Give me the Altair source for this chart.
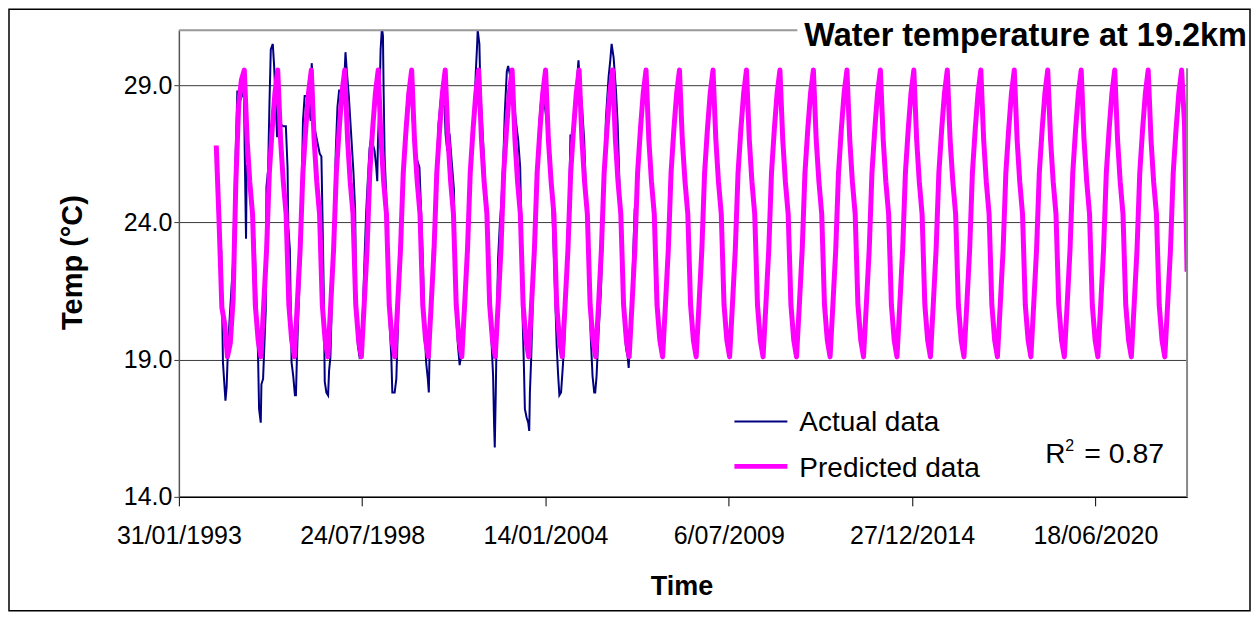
import altair as alt
import pandas as pd
from datetime import datetime, timedelta

# ---------------- data ----------------
# Actual data: time as decimal year, temperature in deg C
ACTUAL_YEAR = [
    1994.35, 1994.40, 1994.475, 1994.51, 1994.55, 1994.60, 1994.70, 1994.77, 1994.83, 1994.90,
    1995.00, 1995.03, 1995.05, 1995.09, 1995.11, 1995.18, 1995.25, 1995.35, 1995.40, 1995.45,
    1995.48, 1995.53, 1995.55, 1995.60, 1995.65, 1995.68, 1995.70, 1995.75, 1995.79, 1995.83,
    1995.89, 1995.93, 1995.98, 1996.02, 1996.04, 1996.10, 1996.20, 1996.28, 1996.33, 1996.35,
    1996.40, 1996.45, 1996.50, 1996.55, 1996.58, 1996.61, 1996.64, 1996.71, 1996.79, 1996.84,
    1996.94, 1997.02, 1997.05, 1997.09, 1997.11, 1997.19, 1997.29, 1997.34, 1997.37, 1997.41,
    1997.44, 1997.49, 1997.54, 1997.57, 1997.61, 1997.64, 1997.69, 1997.77, 1997.82, 1997.87,
    1997.94, 1998.00, 1998.06, 1998.10, 1998.16, 1998.23, 1998.30, 1998.35, 1998.38, 1998.43,
    1998.48, 1998.53, 1998.58, 1998.63, 1998.68, 1998.73, 1998.78, 1998.83, 1998.93, 1998.98,
    1999.01, 1999.03, 1999.08, 1999.11, 1999.15, 1999.18, 1999.20, 1999.23, 1999.30, 1999.35,
    1999.38, 1999.43, 1999.46, 1999.53, 1999.58, 1999.63, 1999.68, 1999.73, 1999.80, 1999.86,
    1999.93, 2000.02, 2000.07, 2000.12, 2000.14, 2000.17, 2000.27, 2000.32, 2000.37, 2000.42,
    2000.47, 2000.52, 2000.55, 2000.57, 2000.62, 2000.67, 2000.74, 2000.79, 2000.84, 2000.90,
    2000.97, 2001.02, 2001.05, 2001.10, 2001.12, 2001.17, 2001.24, 2001.30, 2001.32, 2001.37,
    2001.42, 2001.47, 2001.52, 2001.57, 2001.62, 2001.67, 2001.74, 2001.82, 2001.90, 2001.95,
    2001.99, 2002.01, 2002.06, 2002.09, 2002.16, 2002.21, 2002.27, 2002.32, 2002.37, 2002.42,
    2002.47, 2002.50, 2002.52, 2002.55, 2002.58, 2002.62, 2002.67, 2002.72, 2002.77, 2002.82,
    2002.88, 2002.92, 2002.97, 2003.02, 2003.08, 2003.15, 2003.22, 2003.28, 2003.31, 2003.35,
    2003.39, 2003.42, 2003.47, 2003.52, 2003.55, 2003.57, 2003.61, 2003.65, 2003.70, 2003.75,
    2003.80, 2003.85, 2003.90, 2003.97, 2004.02, 2004.07, 2004.15, 2004.22, 2004.27, 2004.32,
    2004.37, 2004.41, 2004.45, 2004.50, 2004.55, 2004.60, 2004.65, 2004.70, 2004.75, 2004.78,
    2004.80, 2004.81, 2004.86, 2004.95, 2005.02, 2005.06, 2005.12, 2005.19, 2005.24, 2005.29,
    2005.34, 2005.39, 2005.44, 2005.49, 2005.52, 2005.56, 2005.62, 2005.69, 2005.74, 2005.79,
    2005.84, 2005.92, 2005.97, 2006.01, 2006.07, 2006.14, 2006.19, 2006.24, 2006.29, 2006.34,
    2006.39, 2006.44, 2006.49, 2006.52, 2006.57, 2006.62, 2006.70,
]
ACTUAL_TEMP = [
    23.0, 18.9, 17.5, 18.0, 19.4, 20.5, 22.5, 26.0, 28.8, 28.4,
    28.7, 28.6, 26.7, 23.4, 26.1, 25.9, 24.4, 23.2, 21.2, 19.1,
    17.2, 16.7, 18.1, 18.3, 19.9, 20.8, 25.3, 25.9, 28.3, 30.3,
    30.5, 29.7, 28.2, 27.1, 28.4, 27.6, 27.5, 27.5, 26.0, 23.9,
    23.0, 18.9, 18.4, 17.7, 17.7, 19.1, 20.3, 22.5, 27.7, 28.6,
    28.6, 27.7, 29.8, 29.1, 27.6, 27.1, 26.5, 26.4, 24.4, 21.5,
    18.2, 17.8, 17.7, 18.6, 19.1, 20.5, 22.7, 26.6, 28.2, 28.8,
    28.8, 28.5, 30.2, 29.5, 28.6, 27.2, 25.8, 24.4, 20.9, 19.5,
    19.1, 19.2, 20.8, 22.7, 24.4, 25.6, 26.7, 27.1, 26.6, 26.0,
    25.5, 26.9, 28.6, 30.3, 31.1, 30.8, 28.8, 26.4, 24.4, 22.0,
    20.3, 19.1, 17.8, 17.8, 18.3, 20.3, 22.7, 23.9, 25.2, 27.6,
    28.8, 28.7, 27.7, 27.3, 26.0, 26.4, 26.0, 24.4, 22.7, 20.3,
    18.9, 18.3, 17.8, 19.1, 20.8, 23.0, 24.4, 26.1, 27.6, 28.4,
    28.3, 28.2, 27.2, 26.6, 27.2, 27.2, 26.1, 25.2, 22.8, 20.5,
    19.5, 18.8, 19.2, 19.5, 21.1, 22.7, 24.7, 26.1, 27.6, 29.4,
    30.4, 31.0, 30.5, 28.8, 27.2, 26.0, 24.4, 22.5, 20.8, 19.7,
    18.4, 16.6, 15.8, 17.8, 20.3, 22.7, 23.9, 24.8, 26.1, 28.0,
    29.5, 29.7, 29.4, 29.2, 28.6, 27.7, 27.0, 26.0, 23.9, 20.6,
    18.8, 17.2, 16.9, 16.7, 16.4, 17.8, 19.1, 20.8, 23.2, 24.8,
    26.1, 27.6, 28.4, 29.1, 28.2, 27.7, 26.6, 25.2, 23.4, 21.5,
    19.5, 18.5, 17.7, 17.8, 18.7, 19.7, 21.5, 23.7, 25.3, 27.2,
    27.1, 26.1, 27.6, 28.8, 29.9, 29.1, 28.3, 27.0, 25.2, 23.3,
    21.5, 19.7, 18.4, 17.8, 17.8, 18.4, 20.0, 21.5, 23.3, 25.4,
    27.8, 29.3, 29.9, 30.5, 30.0, 28.8, 27.6, 25.6, 23.9, 21.5,
    20.3, 19.4, 19.1, 18.7, 20.0, 21.5, 24.5,
]

# Predicted data: one row per year, monthly values Jan..Dec (None = no value)
PRED_YEARS = list(range(1994, 2024))
PRED_MONTHLY = [
    [None, None, 26.8, 24.0, 20.9, 20.3, 19.1, 19.6, 21.2, 25.5, 28.3, 29.2],  # 1994
    [29.55, 27.0, 25.5, 24.3, 21.0, 19.7, 19.1, 21.0, 23.0, 25.8, 27.4, 28.7],  # 1995
    [29.55, 27.0, 25.5, 24.3, 21.0, 19.7, 19.1, 21.0, 23.0, 25.8, 27.4, 28.7],  # 1996
    [29.55, 27.0, 25.5, 24.3, 21.0, 19.7, 19.1, 21.0, 23.0, 25.8, 27.4, 28.7],  # 1997
    [29.55, 27.0, 25.5, 24.3, 21.0, 19.7, 19.1, 21.0, 23.0, 25.8, 27.4, 28.7],  # 1998
    [29.55, 27.0, 25.5, 24.3, 21.0, 19.7, 19.1, 21.0, 23.0, 25.8, 27.4, 28.7],  # 1999
    [29.55, 27.0, 25.5, 24.3, 21.0, 19.7, 19.1, 21.0, 23.0, 25.8, 27.4, 28.7],  # 2000
    [29.55, 27.0, 25.5, 24.3, 21.0, 19.7, 19.1, 21.0, 23.0, 25.8, 27.4, 28.7],  # 2001
    [29.55, 27.0, 25.5, 24.3, 21.0, 19.7, 19.1, 21.0, 23.0, 25.8, 27.4, 28.7],  # 2002
    [29.55, 27.0, 25.5, 24.3, 21.0, 19.7, 19.1, 21.0, 23.0, 25.8, 27.4, 28.7],  # 2003
    [29.55, 27.0, 25.5, 24.3, 21.0, 19.7, 19.1, 21.0, 23.0, 25.8, 27.4, 28.7],  # 2004
    [29.55, 27.0, 25.5, 24.3, 21.0, 19.7, 19.1, 21.0, 23.0, 25.8, 27.4, 28.7],  # 2005
    [29.55, 27.0, 25.5, 24.3, 21.0, 19.7, 19.1, 21.0, 23.0, 25.8, 27.4, 28.7],  # 2006
    [29.55, 27.0, 25.5, 24.3, 21.0, 19.7, 19.1, 21.0, 23.0, 25.8, 27.4, 28.7],  # 2007
    [29.55, 27.0, 25.5, 24.3, 21.0, 19.7, 19.1, 21.0, 23.0, 25.8, 27.4, 28.7],  # 2008
    [29.55, 27.0, 25.5, 24.3, 21.0, 19.7, 19.1, 21.0, 23.0, 25.8, 27.4, 28.7],  # 2009
    [29.55, 27.0, 25.5, 24.3, 21.0, 19.7, 19.1, 21.0, 23.0, 25.8, 27.4, 28.7],  # 2010
    [29.55, 27.0, 25.5, 24.3, 21.0, 19.7, 19.1, 21.0, 23.0, 25.8, 27.4, 28.7],  # 2011
    [29.55, 27.0, 25.5, 24.3, 21.0, 19.7, 19.1, 21.0, 23.0, 25.8, 27.4, 28.7],  # 2012
    [29.55, 27.0, 25.5, 24.3, 21.0, 19.7, 19.1, 21.0, 23.0, 25.8, 27.4, 28.7],  # 2013
    [29.55, 27.0, 25.5, 24.3, 21.0, 19.7, 19.1, 21.0, 23.0, 25.8, 27.4, 28.7],  # 2014
    [29.55, 27.0, 25.5, 24.3, 21.0, 19.7, 19.1, 21.0, 23.0, 25.8, 27.4, 28.7],  # 2015
    [29.55, 27.0, 25.5, 24.3, 21.0, 19.7, 19.1, 21.0, 23.0, 25.8, 27.4, 28.7],  # 2016
    [29.55, 27.0, 25.5, 24.3, 21.0, 19.7, 19.1, 21.0, 23.0, 25.8, 27.4, 28.7],  # 2017
    [29.55, 27.0, 25.5, 24.3, 21.0, 19.7, 19.1, 21.0, 23.0, 25.8, 27.4, 28.7],  # 2018
    [29.55, 27.0, 25.5, 24.3, 21.0, 19.7, 19.1, 21.0, 23.0, 25.8, 27.4, 28.7],  # 2019
    [29.55, 27.0, 25.5, 24.3, 21.0, 19.7, 19.1, 21.0, 23.0, 25.8, 27.4, 28.7],  # 2020
    [29.55, 27.0, 25.5, 24.3, 21.0, 19.7, 19.1, 21.0, 23.0, 25.8, 27.4, 28.7],  # 2021
    [29.55, 27.0, 25.5, 24.3, 21.0, 19.7, 19.1, 21.0, 23.0, 25.8, 27.4, 28.7],  # 2022
    [29.55, 27.6, 22.2, None, None, None, None, None, None, None, None, None],  # 2023
]

X_TICKS = [(1993, 1, 31), (1998, 7, 24), (2004, 1, 14), (2009, 7, 6), (2014, 12, 27), (2020, 6, 18)]
X_DOMAIN = [(1993, 1, 31), (2023, 3, 15)]
Y_TICKS = [14, 19, 24, 29]
Y_DOMAIN = [14, 31]

TITLE = "Water temperature at 19.2km"
SERIES_NAMES = ["Actual data", "Predicted data"]
R2_TEXT = "= 0.87"

# ---------------- build tables ----------------
def dec_year_to_iso(t):
    y = int(t)
    start = datetime(y, 1, 1)
    n = (datetime(y + 1, 1, 1) - start).days
    d = start + timedelta(days=(t - y) * n)
    return d.strftime("%Y-%m-%dT%H:%M:%SZ")

actual_df = pd.DataFrame({
    "date": [dec_year_to_iso(t) for t in ACTUAL_YEAR],
    "temp": ACTUAL_TEMP,
})

pred_rows = []
for yr, row in zip(PRED_YEARS, PRED_MONTHLY):
    for m, v in enumerate(row):
        if v is not None:
            pred_rows.append({"date": f"{yr}-{m + 1:02d}-15T00:00:00Z", "temp": v})
pred_df = pd.DataFrame(pred_rows)

one = pd.DataFrame({"k": [0]})

FONT = "Liberation Sans"
W, H = 1009, 467

def dt(t):
    return alt.DateTime(year=t[0], month=t[1], date=t[2], utc=True)

x_enc = alt.X(
    "date:T",
    scale=alt.Scale(type="utc", domain=[dt(d) for d in X_DOMAIN], nice=False),
    axis=alt.Axis(
        values=[dt(d) for d in X_TICKS],
        labelExpr="utcFormat(datum.value, '%-d/%m/%Y')",
        grid=False,
        domainColor="black",
        domainWidth=1.5,
        tickColor="black",
        tickSize=9,
        labelFont=FONT,
        labelFontSize=25,
        labelColor="black",
        labelPadding=18,
        labelFlush=False,
        labelOverlap=False,
        title="Time",
        titleFont=FONT,
        titleFontSize=27,
        titleFontWeight="bold",
        titleColor="black",
        titleX=503,
        titleY=98,
        titleAlign="center",
        titleBaseline="alphabetic",
    ),
)
y_enc = alt.Y(
    "temp:Q",
    scale=alt.Scale(domain=Y_DOMAIN, nice=False, zero=False),
    axis=alt.Axis(
        values=Y_TICKS,
        format=".1f",
        grid=True,
        gridColor="#3a3a3a",
        gridWidth=1,
        domainColor="#555555",
        domainWidth=1.5,
        tickColor="#3a3a3a",
        tickSize=5,
        labelFont=FONT,
        labelFontSize=25,
        labelColor="black",
        labelPadding=2,
        title="Temp (°C)",
        titleFont=FONT,
        titleFontSize=29,
        titleFontWeight="bold",
        titleColor="black",
        titleAngle=270,
        titleX=-97,
        titleY=232,
        titleAlign="center",
        titleBaseline="alphabetic",
    ),
)

actual = alt.Chart(actual_df).mark_line(color="#000080", strokeWidth=2, clip=True).encode(x=x_enc, y=y_enc)
pred = alt.Chart(pred_df).mark_line(color="#FF00FF", strokeWidth=5, clip=True,
                                    strokeJoin="round").encode(x=x_enc, y=y_enc)

top_border = alt.Chart(one).mark_rule(color="#999999", strokeWidth=2).encode(
    x=alt.value(0), x2=alt.value(619), y=alt.value(0))
right_border = alt.Chart(one).mark_rule(color="#888888", strokeWidth=2).encode(
    x=alt.value(W), y=alt.value(38), y2=alt.value(H))

frame = alt.Chart(one).mark_rect(fill="transparent", stroke="black", strokeWidth=1.5).encode(
    x=alt.value(-170), x2=alt.value(W + 63), y=alt.value(-21), y2=alt.value(H + 114))

leg_actual_line = alt.Chart(one).mark_rule(color="#000080", strokeWidth=2).encode(
    x=alt.value(556), x2=alt.value(609), y=alt.value(391.5))
leg_pred_line = alt.Chart(one).mark_rule(color="#FF00FF", strokeWidth=5).encode(
    x=alt.value(556), x2=alt.value(609), y=alt.value(436.5))
leg_actual_text = alt.Chart(one).mark_text(align="left", baseline="alphabetic", font=FONT,
                                           fontSize=28, color="black").encode(
    x=alt.value(621), y=alt.value(401.5), text=alt.value(SERIES_NAMES[0]))
leg_pred_text = alt.Chart(one).mark_text(align="left", baseline="alphabetic", font=FONT,
                                         fontSize=28, color="black").encode(
    x=alt.value(621), y=alt.value(447), text=alt.value(SERIES_NAMES[1]))

r_text = alt.Chart(one).mark_text(align="left", baseline="alphabetic", font=FONT,
                                  fontSize=28, color="black").encode(
    x=alt.value(867), y=alt.value(433), text=alt.value("R"))
r_sup = alt.Chart(one).mark_text(align="left", baseline="alphabetic", font=FONT,
                                 fontSize=16, color="black").encode(
    x=alt.value(887), y=alt.value(421), text=alt.value("2"))
r_val = alt.Chart(one).mark_text(align="left", baseline="alphabetic", font=FONT,
                                 fontSize=28.5, color="black").encode(
    x=alt.value(906), y=alt.value(433), text=alt.value(R2_TEXT))

title = alt.Chart(one).mark_text(align="right", baseline="alphabetic", font=FONT,
                                 fontSize=32.5, fontWeight="bold", color="black").encode(
    x=alt.value(1069), y=alt.value(16), text=alt.value(TITLE))

chart = alt.layer(
    actual, pred, top_border, right_border, frame,
    leg_actual_line, leg_pred_line, leg_actual_text, leg_pred_text,
    r_text, r_sup, r_val, title,
).properties(
    width=W,
    height=H,
    padding={"left": 171, "top": 22, "right": 64, "bottom": 115},
    autosize=alt.AutoSizeParams(type="none"),
    background="white",
).configure_view(stroke=None)

chart.save("out.html", embed_options={"renderer": "svg", "actions": False})
